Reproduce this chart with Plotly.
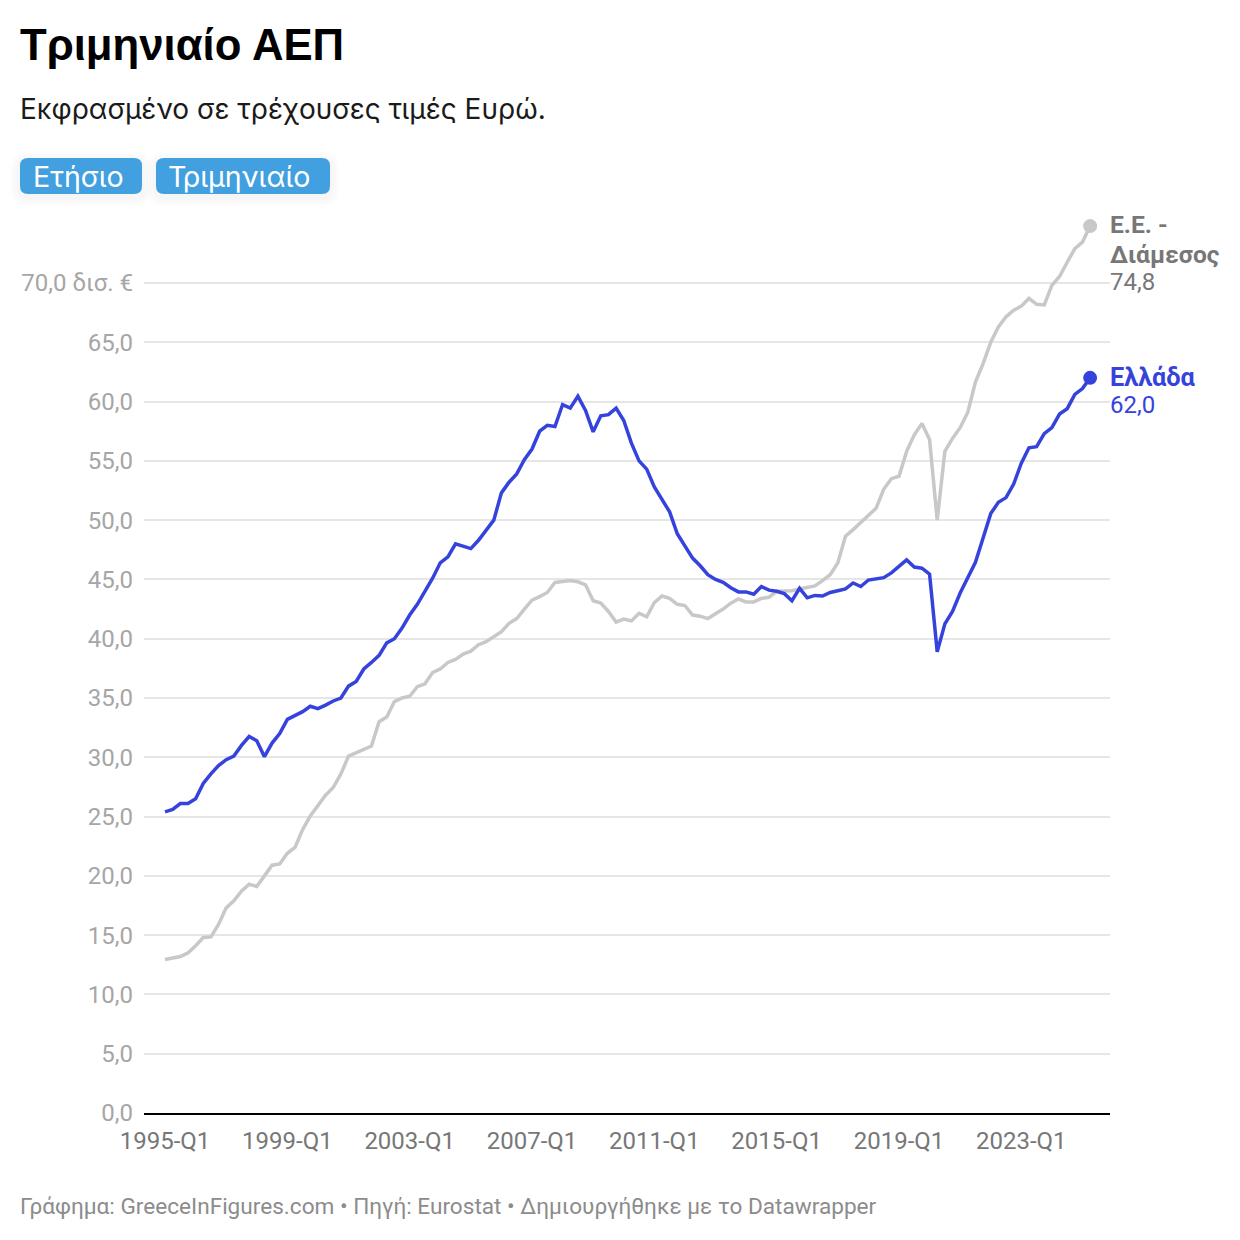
import plotly.graph_objects as go

greece = [25.4,25.6,26.1,26.1,26.5,27.8,28.6,29.3,29.8,30.1,31.0,31.75,31.4,30.05,31.2,32.0,
33.2,33.5,33.85,34.3,34.1,34.4,34.75,35.0,36.0,36.4,37.45,38.0,38.6,39.65,40.0,40.9,
42.0,42.9,44.0,45.1,46.4,46.9,48.0,47.8,47.6,48.3,49.2,50.0,52.3,53.2,53.9,55.1,
56.0,57.5,58.0,57.9,59.75,59.45,60.45,59.25,57.45,58.8,58.9,59.45,58.4,56.5,55.0,54.3,
52.8,51.8,50.7,48.85,47.85,46.8,46.15,45.4,45.0,44.75,44.3,43.95,43.95,43.75,44.4,44.1,
44.0,43.8,43.2,44.25,43.45,43.65,43.6,43.9,44.05,44.2,44.7,44.4,44.95,45.05,45.15,45.55,
46.1,46.65,46.05,45.95,45.45,38.9,41.25,42.3,43.85,45.1,46.45,48.5,50.55,51.5,51.9,53.05,
54.8,56.1,56.2,57.3,57.8,58.95,59.4,60.6,61.1,62.0]
eu_median = [12.95,13.1,13.2,13.5,14.1,14.8,14.85,15.9,17.3,17.9,18.7,19.3,19.1,20.0,20.9,21.0,
21.9,22.4,23.9,25.05,25.9,26.8,27.45,28.6,30.1,30.4,30.7,30.95,33.0,33.4,34.7,35.0,
35.15,35.95,36.2,37.15,37.45,38.0,38.25,38.7,38.95,39.5,39.75,40.2,40.6,41.3,41.7,42.5,
43.25,43.55,43.9,44.75,44.85,44.9,44.8,44.55,43.2,43.0,42.3,41.4,41.65,41.5,42.15,41.85,
43.05,43.6,43.4,42.9,42.8,42.0,41.9,41.7,42.1,42.5,43.0,43.35,43.1,43.1,43.4,43.5,
44.0,44.0,44.05,44.2,44.3,44.45,44.9,45.4,46.4,48.65,49.2,49.8,50.4,51.0,52.6,53.5,
53.7,55.8,57.2,58.15,56.8,50.0,55.8,56.9,57.8,59.1,61.65,63.2,65.0,66.3,67.15,67.7,
68.05,68.7,68.2,68.15,69.8,70.55,71.75,72.9,73.45,74.8]
quarters = [f"{1995 + k // 4}-Q{k % 4 + 1}" for k in range(len(greece))]

x_tick_labels = ["1995-Q1","1999-Q1","2003-Q1","2007-Q1","2011-Q1","2015-Q1","2019-Q1","2023-Q1"]
y_tick_values = [0,5,10,15,20,25,30,35,40,45,50,55,60,65,70]
y_tick_labels = ["0,0","5,0","10,0","15,0","20,0","25,0","30,0","35,0","40,0","45,0","50,0","55,0","60,0","65,0","70,0 δισ. €"]

BLUE = "#3543DC"
GREY = "#C8C8C8"
L, R, T, B = 144, 1110, 200, 1113
PW, PH = R - L, B - T
def px(v): return (v - L) / PW
def py(v): return (B - v) / PH

fig = go.Figure()
fig.add_trace(go.Scatter(x=quarters, y=eu_median, mode="lines", line=dict(color=GREY, width=3.5), hoverinfo="skip"))
fig.add_trace(go.Scatter(x=quarters, y=greece, mode="lines", line=dict(color=BLUE, width=3.5), hoverinfo="skip"))
fig.add_trace(go.Scatter(x=quarters[-1:], y=eu_median[-1:], mode="markers", marker=dict(color=GREY, size=14), hoverinfo="skip"))
fig.add_trace(go.Scatter(x=quarters[-1:], y=greece[-1:], mode="markers", marker=dict(color=BLUE, size=14), hoverinfo="skip"))

def rrect(x0, y0, x1, y1, r):
    a, b, c, d = px(x0), px(x1), py(y0), py(y1)
    rx, ry = r / PW, r / PH
    return (f"M {a+rx} {c} L {b-rx} {c} Q {b} {c} {b} {c-ry} L {b} {d+ry} Q {b} {d} {b-rx} {d} "
            f"L {a+rx} {d} Q {a} {d} {a} {d+ry} L {a} {c-ry} Q {a} {c} {a+rx} {c} Z")

shapes = []
for x0, x1 in [(20, 142), (156, 330)]:
    for grow in (9, 6, 3):
        shapes.append(dict(type="path", xref="paper", yref="paper", layer="below",
                           path=rrect(x0 - grow, 158 - grow + 3, x1 + grow, 194 + grow + 3, 8 + grow),
                           fillcolor="rgba(0,0,0,0.012)", line=dict(width=0)))
    shapes.append(dict(type="path", xref="paper", yref="paper", path=rrect(x0, 158, x1, 194, 8),
                       fillcolor="#42A0E0", line=dict(width=0)))

def note(text, x, y, size, color, family="Roboto", anchor="left", bold=False):
    return dict(text=f"<b>{text}</b>" if bold else text, x=px(x), y=py(y), xref="paper", yref="paper",
                xanchor=anchor, yanchor="middle", showarrow=False, align="left",
                font=dict(family=family, size=size, color=color), borderpad=0, borderwidth=0)

annotations = [
    note("Τριμηνιαίο ΑΕΠ", 20, 44, 43.7, "#000000", "Liberation Sans", bold=True),
    note("Εκφρασμένο σε τρέχουσες τιμές Ευρώ.", 20, 109, 28, "#1a1a1a", "Inter"),
    note("Ετήσιο", 33, 176, 28.6, "#ffffff", "Inter"),
    note("Τριμηνιαίο", 168, 176, 28.6, "#ffffff", "Inter"),
    note("Ε.Ε. -", 1110, 225, 24.6, "#777777", bold=True),
    note("Διάμεσος", 1110, 254, 24.6, "#777777", bold=True),
    note("74,8", 1110, 282, 24, "#777777"),
    note("Ελλάδα", 1110, 377, 25.3, BLUE, bold=True),
    note("62,0", 1110, 405, 24, BLUE),
    note("Γράφημα: GreeceInFigures.com • Πηγή: Eurostat • Δημιουργήθηκε με το Datawrapper", 20, 1206, 22.6, "#8c8c8c"),
]

fig.update_layout(
    width=1240, height=1240, autosize=False,
    margin=dict(l=L, r=1240 - R, t=T, b=1240 - B, pad=0),
    paper_bgcolor="#ffffff", plot_bgcolor="#ffffff",
    showlegend=False, shapes=shapes, annotations=annotations,
    font=dict(family="Roboto"),
    xaxis=dict(type="category", categoryorder="array", categoryarray=quarters,
               range=[-2.75, 123.6], tickmode="array", tickvals=x_tick_labels, ticktext=x_tick_labels,
               showgrid=False, zeroline=False, showline=True, linecolor="#000000", linewidth=2,
               ticks="", ticklabelstandoff=5, tickfont=dict(family="Roboto", size=24, color="#777777"), tickangle=0),
    yaxis=dict(range=[0, PH / 11.857], tickmode="array", tickvals=y_tick_values, ticktext=y_tick_labels,
               showgrid=True, gridcolor="#E6E6E6", gridwidth=2, zeroline=False, showline=False,
               ticks="", ticklabelstandoff=10, tickfont=dict(family="Roboto", size=24, color="#A6A6A6")),
)

fig.write_html("out.html", config=dict(displayModeBar=False),
               post_script="document.body.style.margin='0';document.body.style.overflow='hidden';")
